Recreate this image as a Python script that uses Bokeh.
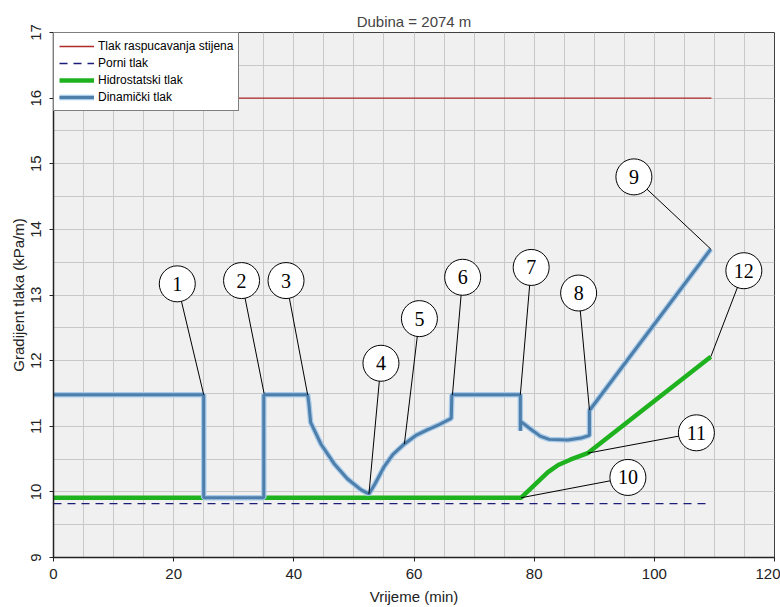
from bokeh.plotting import figure
from bokeh.models import Range1d, SingleIntervalTicker, Legend, LegendItem, ColumnDataSource
from bokeh.embed import file_html
from bokeh.resources import INLINE
from bokeh.core.properties import value

# ---------------- data ----------------
frac_x = [0, 109.5]
frac_y = [16.0, 16.0]

pore_x = [0, 109.5]
pore_y = [9.82, 9.82]

hyd_x = [0, 77.8, 82.3, 84.0, 86.0, 88.9, 109.4]
hyd_y = [9.91, 9.91, 10.30, 10.41, 10.49, 10.59, 12.06]

dyn_x = [0, 25.0, 25.0, 35.0, 35.0, 42.3, 42.5, 42.8, 44.5, 46.7, 48.9, 51.2, 52.5,
         53.5, 55.0, 56.5, 58.4, 60.3, 62.3, 64.3, 66.2, 66.3, 77.7, 77.7, 77.8,
         79.5, 81.0, 82.5, 85.6, 87.8, 89.2, 89.2, 109.4]
dyn_y = [11.48, 11.48, 9.91, 9.91, 11.48, 11.48, 11.35, 11.06, 10.73, 10.43, 10.20, 10.03, 9.97,
         10.12, 10.38, 10.57, 10.73, 10.86, 10.95, 11.03, 11.12, 11.48, 11.48, 10.93, 11.07,
         10.95, 10.85, 10.80, 10.79, 10.82, 10.86, 11.24, 13.70]

callout_labels = ["1", "2", "3", "4", "5", "6", "7", "8", "9", "10", "11", "12"]
callout_x = [20.6, 31.3, 38.7, 54.5, 60.9, 68.1, 79.5, 87.4, 96.6, 95.6, 107.0, 114.9]
callout_y = [13.17, 13.22, 13.22, 11.96, 12.64, 13.27, 13.42, 13.03, 14.80, 10.22, 10.90, 13.37]
target_x = [25.0, 35.05, 42.3, 52.5, 58.4, 66.4, 77.7, 89.2, 109.4, 77.8, 88.9, 109.4]
target_y = [11.48, 11.50, 11.48, 9.97, 10.73, 11.48, 11.48, 11.25, 13.70, 9.91, 10.59, 12.06]

x_ticks_interval = 20
y_ticks_interval = 1

# ---------------- figure ----------------
p = figure(width=780, height=607, output_backend="svg", toolbar_location=None,
           x_range=Range1d(0, 120), y_range=Range1d(9, 17),
           min_border_left=53, min_border_right=6, min_border_top=32, min_border_bottom=46,
           background_fill_color="#F0F0F0", border_fill_color="white")

p.title.text = "Dubina = 2074 m"
p.title.align = "center"
p.title.text_font = "Liberation Sans"
p.title.text_font_size = "15px"
p.title.text_font_style = "normal"
p.title.standoff = 6

p.outline_line_color = "#404040"
p.outline_line_width = 1

xt = SingleIntervalTicker(interval=x_ticks_interval, num_minor_ticks=4)
yt = SingleIntervalTicker(interval=y_ticks_interval, num_minor_ticks=2)
p.xaxis.ticker = xt
p.yaxis.ticker = yt
p.xgrid.ticker = xt
p.ygrid.ticker = yt

for g in (p.xgrid, p.ygrid):
    g.grid_line_color = "#C8C8C8"
    g.grid_line_width = 1
    g.minor_grid_line_color = "#C8C8C8"
    g.minor_grid_line_width = 1

p.xaxis.axis_label = "Vrijeme (min)"
p.yaxis.axis_label = "Gradijent tlaka (kPa/m)"
for ax in (p.xaxis, p.yaxis):
    ax.axis_line_color = "#222222"
    ax.axis_line_width = 1.5
    ax.major_tick_line_color = "#222222"
    ax.major_tick_out = 4
    ax.major_tick_in = 0
    ax.minor_tick_line_color = None
    ax.major_label_text_font = "Liberation Sans"
    ax.major_label_text_font_size = "15px"
    ax.major_label_text_color = "#222222"
    ax.axis_label_text_font = "Liberation Sans"
    ax.axis_label_text_font_size = "15px"
    ax.axis_label_text_font_style = "normal"
    ax.axis_label_text_color = "#222222"
p.xaxis.major_label_standoff = 7
p.xaxis.axis_label_standoff = 6
p.yaxis.major_label_standoff = 9
p.yaxis.axis_label_standoff = 1
p.yaxis.major_label_orientation = "parallel"

# ---------------- series ----------------
r_frac = p.line(frac_x, frac_y, line_color="#B22A2A", line_width=1.3)
r_pore = p.line(pore_x, pore_y, line_color="#1C1C7A", line_width=1.3, line_dash="8 6")
r_hyd = p.line(hyd_x, hyd_y, line_color="#1FB21F", line_width=4.5)
r_dyn_halo = p.line(dyn_x, dyn_y, line_color="#A9CBEA", line_width=5.5)
r_dyn = p.line(dyn_x, dyn_y, line_color="#4E7EAA", line_width=3)

# ---------------- callouts ----------------
src = ColumnDataSource(dict(lab=callout_labels, cx=callout_x, cy=callout_y,
                            tx=target_x, ty=target_y))
p.segment(x0="cx", y0="cy", x1="tx", y1="ty", source=src, line_color="black", line_width=1)
p.scatter(x="cx", y="cy", source=src, marker="circle", size=36,
          fill_color="white", line_color="black", line_width=1)
p.text(x="cx", y="cy", text="lab", source=src, text_align="center", text_baseline="middle",
       text_font=value("Liberation Serif"), text_font_size="20px", text_color="black")

# ---------------- legend ----------------
legend = Legend(items=[
    LegendItem(label="Tlak raspucavanja stijena", renderers=[r_frac]),
    LegendItem(label="Porni tlak", renderers=[r_pore]),
    LegendItem(label="Hidrostatski tlak", renderers=[r_hyd]),
    LegendItem(label="Dinamički tlak", renderers=[r_dyn_halo, r_dyn]),
], location="top_left")
legend.margin = 0
legend.padding = 5
legend.spacing = 1
legend.glyph_width = 35
legend.glyph_height = 16
legend.label_height = 16
legend.label_standoff = 4
legend.label_text_font = "Liberation Sans"
legend.label_text_font_size = "12px"
legend.label_text_color = "black"
legend.border_line_color = "black"
legend.border_line_width = 1.5
legend.background_fill_color = "white"
legend.background_fill_alpha = 1
p.add_layout(legend, "center")

open("out.html", "w").write(file_html(p, INLINE))
